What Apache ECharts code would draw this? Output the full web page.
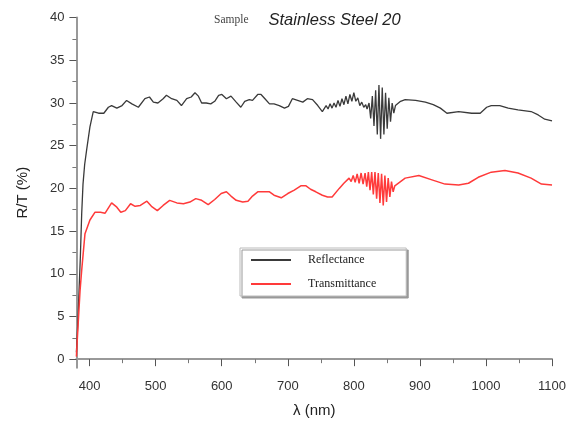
<!DOCTYPE html>
<html>
<head>
<meta charset="utf-8">
<script src="https://cdn.jsdelivr.net/npm/echarts@6/dist/echarts.min.js"></script>
<style>html,body{margin:0;padding:0;background:#fff}#c{width:569px;height:428px}</style>
</head>
<body>
<div id="c"></div>
<script>
// Reflectance (black)
const reflWl = [380,382,384,386,388,390,392.5,395.5,400.5,405.5,413.6,421.5,428.4,433.3,441.2,449.1,456,464,473.8,483.7,490.6,496.5,503.4,511.3,516.3,524.2,532.1,539,546.9,553.8,559.5,564.7,569.6,576.5,583.4,589.4,595.3,600.2,607.1,614,621.9,628.9,634.8,641.7,646.6,654.5,659.5,665.4,672.3,679.2,687.1,695,701,706.9,714.8,722.7,729.6,737.5,745.4,752.3,
  755,758,761,764,767,770,773,776,779,782,785,788,791,794,797,800,803,806,809,812,815,818,820,
  823,825.5,828,830.5,833,835.5,838,840.5,843,845.5,848,850.5,853,855.5,858,860.5,
  863,870.7,877.7,893.5,908.3,920.2,931,940.9,958.7,978.4,991.3,1001.1,1008,1020.9,1033.7,1048.5,1068.3,1079.1,1089,1100];
const reflVal = [0.8,4,8,12,17,20.5,22.8,24.5,27.2,29.0,28.8,28.8,29.5,29.7,29.4,29.7,30.3,29.9,29.5,30.5,30.7,30.1,30.0,30.5,30.9,30.5,30.3,29.7,30.5,30.7,31.2,30.8,30.0,30.0,29.9,30.2,30.9,31.0,30.5,30.8,30.1,29.5,30.2,30.4,30.3,31.0,31.0,30.5,29.9,29.9,29.7,29.4,29.6,30.5,30.3,30.1,30.5,30.4,29.7,29.0,
  29.2,29.7,29.3,29.9,29.4,30.0,29.5,30.3,29.6,30.5,29.8,30.8,29.9,31.0,30.2,31.2,30.2,30.6,29.7,30.1,29.5,29.8,29.3,
  30.0,28.2,30.8,27.3,31.5,26.3,32.1,25.8,31.8,26.3,31.2,27.0,30.6,27.8,30.0,28.8,
  29.7,30.2,30.4,30.3,30.1,29.8,29.4,28.8,29.0,28.8,28.8,29.5,29.7,29.7,29.4,29.2,29.0,28.6,28.1,27.9];

// Transmittance (red)
const transWl = [380,381,383,385.5,388,393,400.5,408,416.5,423.5,433.3,441.2,447.2,454.1,462,468.9,476.8,486.7,493.6,502.5,511.3,521.2,532.1,542,551.8,560.7,569.6,579.5,589.4,599.2,607.1,614,621.9,631.8,639.7,646.6,654.5,664.4,672.3,679.2,690.1,700,709.8,719.7,727.6,734.5,742.4,752.3,760.2,767.1,777.9,784.9,792.8,
  796,799,802,805,808,811,814,817,
  819.5,822,824.5,827,829.5,832,834.5,837,839.5,842,844.5,847,849.5,852,854.5,857,859.5,862,
  864,877.7,898.4,918.2,938,958.7,973.5,988.3,1008,1028.7,1048.5,1068.3,1084,1100];
const transVal = [0.3,1.8,4.6,8,10.4,14.7,16.3,17.2,17.2,17.1,18.3,17.8,17.2,17.4,18.2,17.9,18.0,18.5,17.9,17.4,18.0,18.6,18.3,18.2,18.4,18.8,18.6,18.1,18.7,19.4,19.6,19.1,18.6,18.4,18.5,19.1,19.6,19.6,19.6,19.2,18.9,19.4,19.8,20.3,20.3,19.9,19.6,19.2,19.0,19.0,20.0,20.6,21.2,
  20.8,21.5,20.7,21.7,20.6,21.8,20.5,21.8,
  20.2,21.9,19.8,21.9,19.3,21.9,18.8,21.8,18.3,21.7,18.0,21.5,18.4,21.2,19.0,20.8,19.6,20.3,
  20.4,21.2,21.5,21.0,20.5,20.4,20.6,21.3,21.9,22.1,21.8,21.2,20.5,20.4];

const xMajor = [400,500,600,700,800,900,1000,1100];
const xMinor = [450,550,650,750,850,950,1050];
const yMajor = [0,5,10,15,20,25,30,35,40];
const yMinor = [2.5,7.5,12.5,17.5,22.5,27.5,32.5,37.5];

const zip = (a, b) => a.map((x, i) => [x, b[i]]);
const chart = echarts.init(document.getElementById('c'), null, {renderer: 'canvas'});
const lblFont = {fontFamily: 'Liberation Sans, Arial', fontSize: 13, color: '#333', formatter: v => String(v)};
chart.setOption({
  animation: false,
  backgroundColor: '#fff',
  title: {
    text: '{a|Sample}    {b|Stainless Steel 20}',
    left: 209, top: 6,
    textStyle: {
      fontWeight: 'normal',
      rich: {
        a: {fontFamily: 'Liberation Serif, Times New Roman', fontSize: 11.5, fontWeight: 'normal', color: '#444'},
        b: {fontFamily: 'Liberation Sans, Arial', fontStyle: 'italic', fontWeight: 'normal', fontSize: 16.5, color: '#222'}
      }
    }
  },
  legend: {
    orient: 'vertical',
    left: 240, top: 248,
    padding: [6, 30, 6, 10],
    itemWidth: 40, itemHeight: 10, itemGap: 12,
    backgroundColor: '#fff',
    borderColor: '#bbb', borderWidth: 1,
    shadowColor: '#999', shadowOffsetX: 2, shadowOffsetY: 2, shadowBlur: 0,
    itemStyle: {opacity: 0},
    textStyle: {fontFamily: 'Liberation Serif, Times New Roman', fontSize: 12, color: '#222', padding: [0, 0, 0, 12]},
    data: ['Reflectance', 'Transmittance']
  },
  grid: {left: 76.4, right: 14.5, top: 17.6, bottom: 60.3},
  xAxis: [{
    type: 'value', min: 380, max: 1100,
    name: 'λ (nm)', nameLocation: 'middle', nameGap: 36,
    nameTextStyle: {fontFamily: 'Liberation Sans, Arial', fontSize: 15, color: '#222'},
    axisLine: {show: true, lineStyle: {color: '#999', width: 2}},
    axisTick: {show: true, inside: false, length: 7, customValues: xMajor, lineStyle: {color: '#555'}},
    axisLabel: Object.assign({margin: 12, customValues: xMajor}, lblFont),
    splitLine: {show: false}
  }, {
    type: 'value', min: 380, max: 1100, position: 'bottom',
    axisLine: {show: false},
    axisTick: {show: true, inside: false, length: 4, customValues: xMinor, lineStyle: {color: '#777'}},
    axisLabel: {show: false},
    splitLine: {show: false}
  }],
  yAxis: [{
    type: 'value', min: -1, max: 40,
    name: 'R/T (%)', nameLocation: 'middle', nameGap: 46, nameRotate: 90,
    nameTextStyle: {fontFamily: 'Liberation Sans, Arial', fontSize: 15, color: '#222'},
    axisLine: {show: true, lineStyle: {color: '#999', width: 2}},
    axisTick: {show: true, inside: false, length: 7, customValues: yMajor, lineStyle: {color: '#555'}},
    axisLabel: Object.assign({margin: 12, customValues: yMajor}, lblFont),
    splitLine: {show: false}
  }, {
    type: 'value', min: -1, max: 40, position: 'left',
    axisLine: {show: false},
    axisTick: {show: true, inside: false, length: 4, customValues: yMinor, lineStyle: {color: '#777'}},
    axisLabel: {show: false},
    splitLine: {show: false}
  }],
  series: [{
    name: 'Reflectance', type: 'line', xAxisIndex: 0, yAxisIndex: 0,
    data: zip(reflWl, reflVal), symbol: 'none', smooth: false,
    lineStyle: {color: '#3a3a3a', width: 1.3}, itemStyle: {color: '#3a3a3a'}
  }, {
    name: 'Transmittance', type: 'line', xAxisIndex: 0, yAxisIndex: 0,
    data: zip(transWl, transVal), symbol: 'none', smooth: false,
    lineStyle: {color: '#ff3a3a', width: 1.5}, itemStyle: {color: '#ff3a3a'}
  }]
});
</script>
</body>
</html>
